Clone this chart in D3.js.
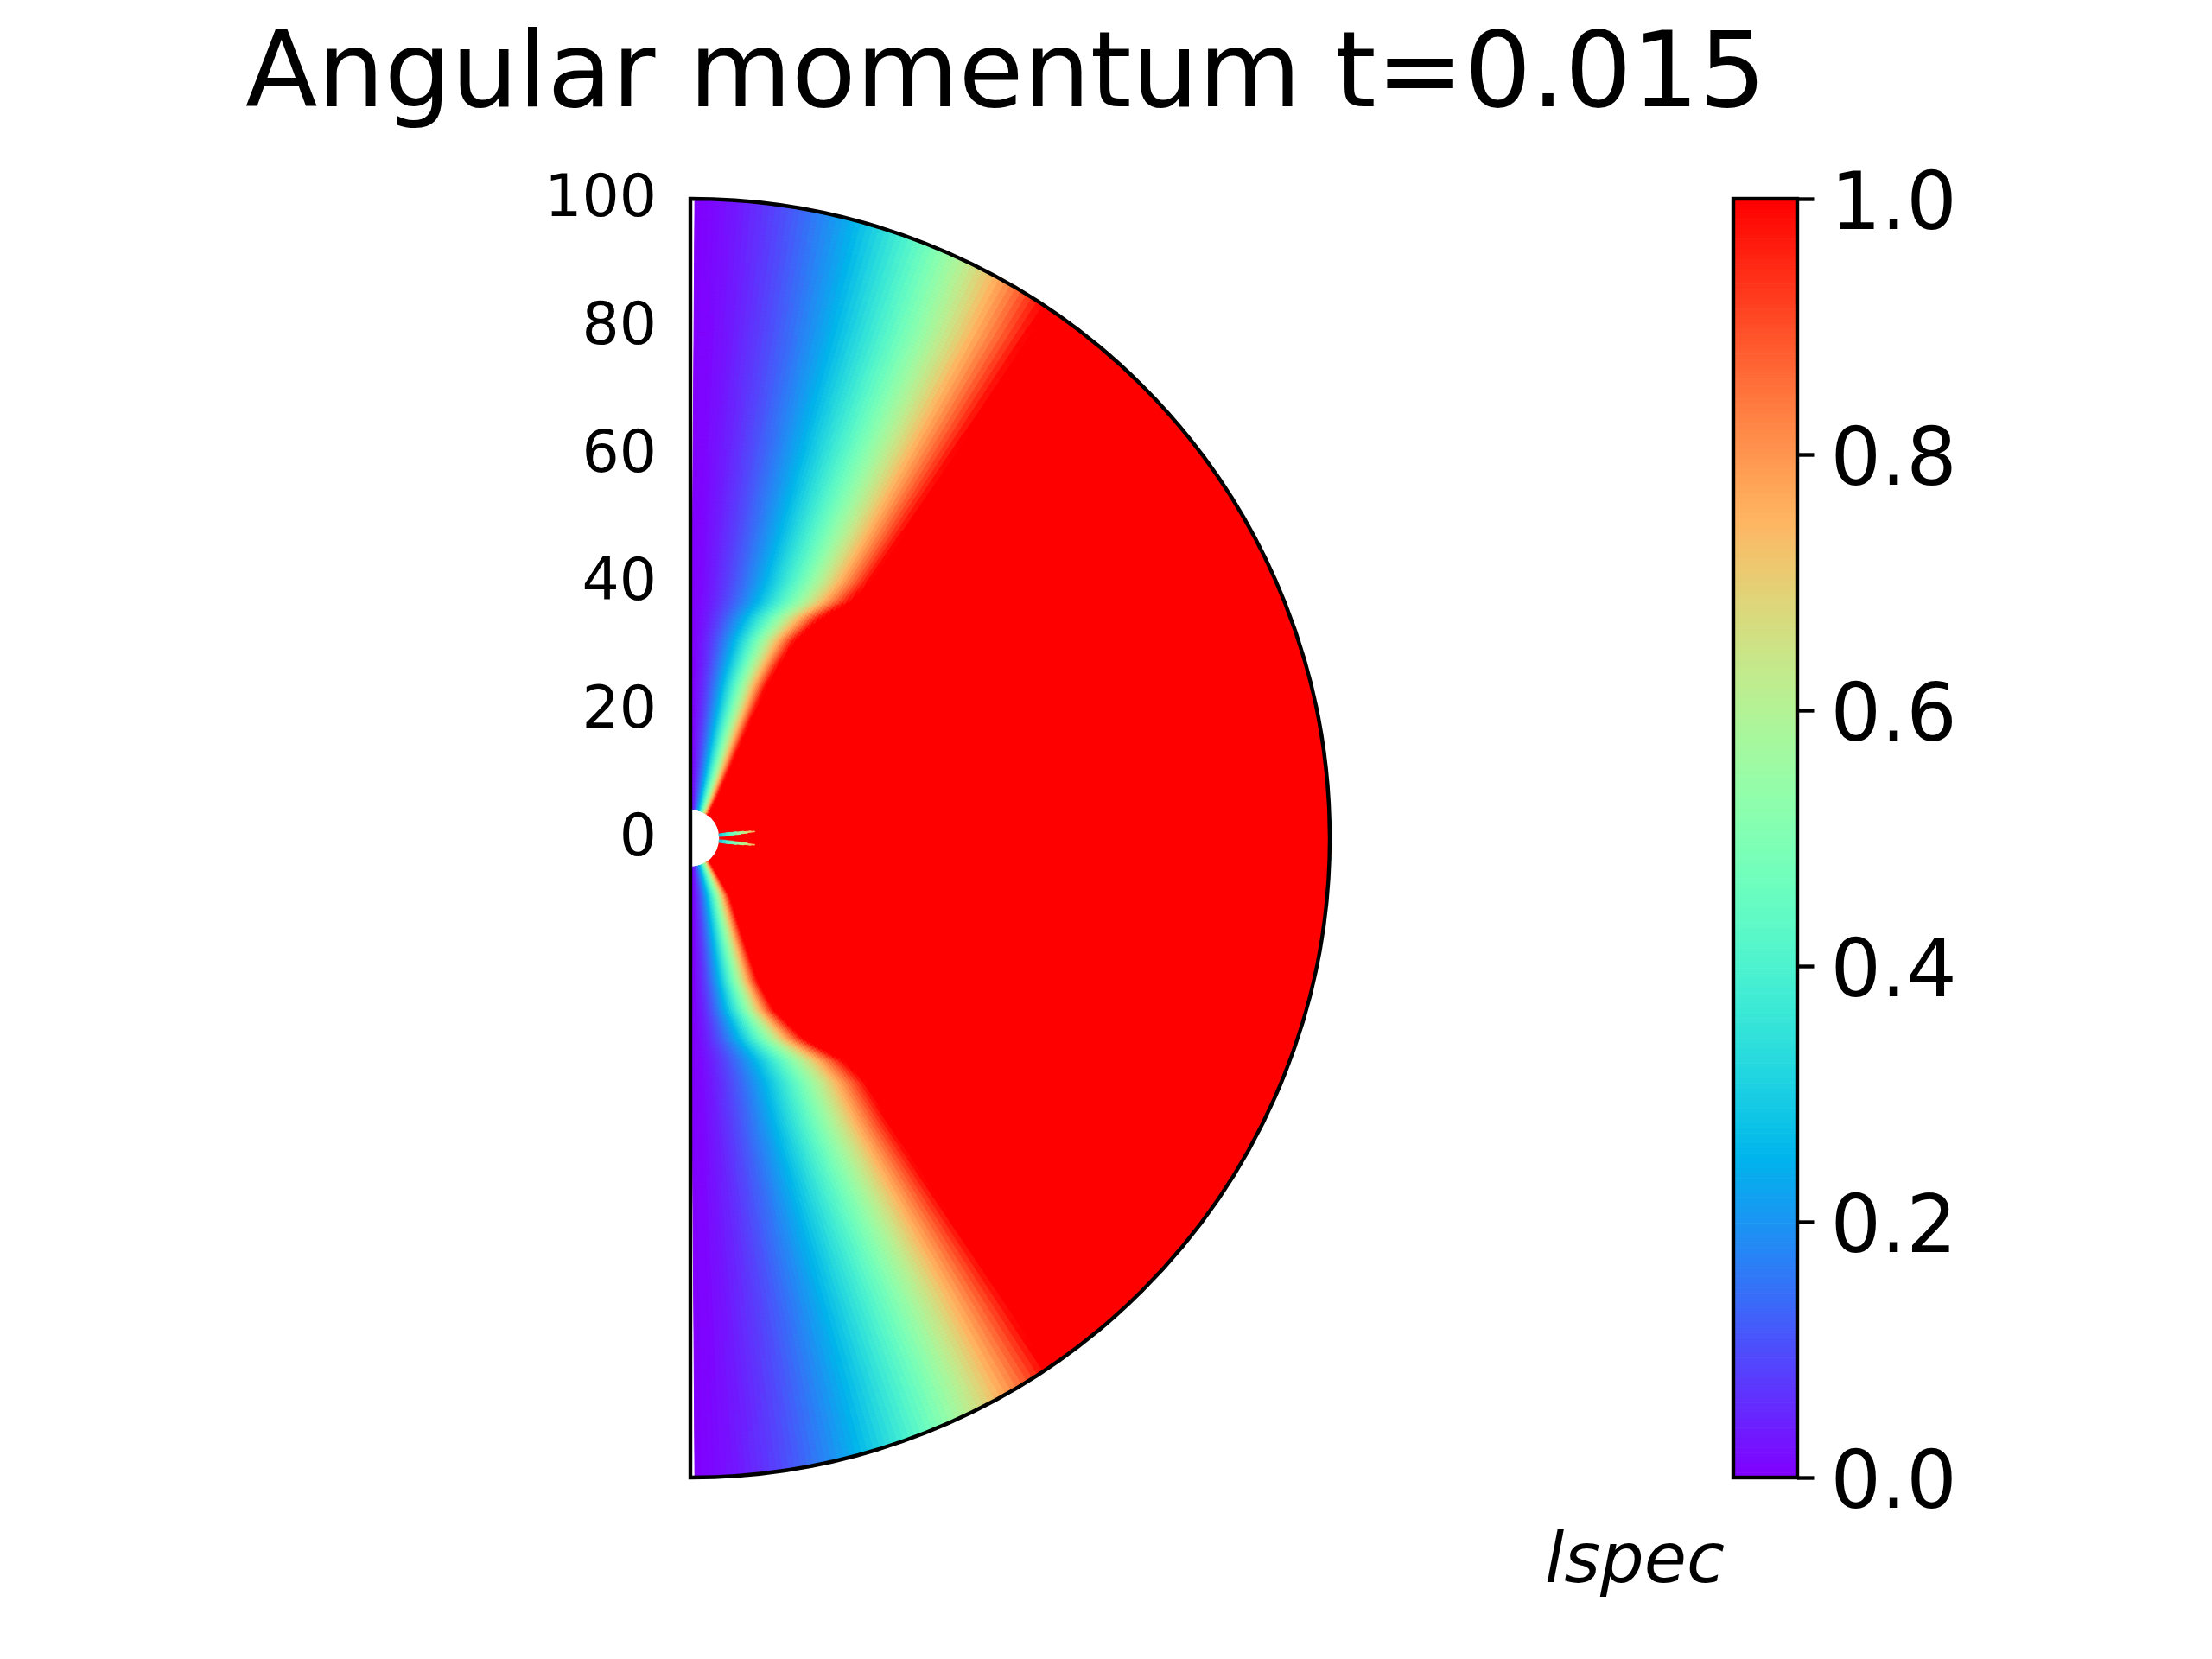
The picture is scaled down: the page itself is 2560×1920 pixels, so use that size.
<!DOCTYPE html>
<html><head><meta charset="utf-8">
<script src="https://cdn.jsdelivr.net/npm/d3@7"></script>
<style>body{margin:0;background:#fff} svg{display:block}</style>
</head><body>
<script>
// ---------------- data ----------------
const titleText = "Angular momentum t=0.015";
const yTicks = [0, 20, 40, 60, 80, 100];
const cbTicks = [0.0, 0.2, 0.4, 0.6, 0.8, 1.0];
const cbLabel = "lspec";
// height z and cylindrical radius x where lspec reaches 1 (edge of red region)
const edgeZ = [-100, -86, -73, -59, -54, -45, -38.3, -35, -31.5, -27, -22.5, -15.8, -9, -4.5, -3, 0, 3, 6, 10.5, 17, 24, 27, 31, 34.5, 37, 40, 46, 55, 61, 79, 92, 100];
const edgeX = [63, 57, 49.4, 40.3, 37, 31.2, 27.4, 24, 17.7, 13, 10.5, 8.2, 6, 3.4, 2.5, 1.5, 2.5, 4, 6, 8.8, 12, 13.8, 16.5, 20.5, 25, 28, 32.2, 38, 41.8, 53, 59, 62];
const profileExponent = 1.6;           // lspec ~ (x / edge)^p inside the edge
const radialExtent = [4.5, 100];       // inner hole and outer radius
const thetaExtent = [0.4, 179.6];      // polar angle range of the mesh (deg)
// two thin low-lspec spikes next to the inner boundary
const spikeTheta = [84, 96];
const spikeR = [4.5, 10.5];
const spikeValue = [0.28, 0.8];
const spikeHalfWidth = 2.8;

// ---------------- layout ----------------
const W = 2560, H = 1920;
const cx = 799, cy = 970, Rpx = 740;
const font = "'DejaVu Sans', sans-serif";

const svg = d3.select("body").append("svg")
  .attr("width", W).attr("height", H)
  .attr("viewBox", `0 0 ${W} ${H}`);
svg.append("rect").attr("width", W).attr("height", H).attr("fill", "#fff");

// matplotlib 'rainbow' colormap
function rainbow(t) {
  const r = Math.min(1, Math.abs(2 * t - 0.5));
  const g = Math.sin(Math.PI * t);
  const b = Math.cos(Math.PI * t / 2);
  return d3.rgb(r * 255, g * 255, b * 255).formatHex();
}
const color = d3.scaleSequential(rainbow).domain([0, 1]);
const lutIndex = v => Math.min(255, Math.max(0, Math.floor(v * 256)));

const rScale = d3.scaleLinear().domain([0, 100]).range([0, Rpx]);
const yScale = d3.scaleLinear().domain([-100, 100]).range([cy + Rpx, cy - Rpx]);
const edge = d3.scaleLinear().domain(edgeZ).range(edgeX).clamp(true);

function field(r, thDeg) {
  const th = thDeg * Math.PI / 180;
  const x = r * Math.sin(th), z = r * Math.cos(th);
  if (r < spikeR[1]) {
    const f = (r - spikeR[0]) / (spikeR[1] - spikeR[0]);
    const hw = spikeHalfWidth * (1 - f);
    for (const s of spikeTheta) {
      if (Math.abs(thDeg - s) < hw) return spikeValue[0] + (spikeValue[1] - spikeValue[0]) * f;
    }
  }
  const xb = edge(z);
  return Math.min(1, Math.pow(Math.max(0, x) / xb, profileExponent));
}

// ---------------- polar mesh ----------------
const nr = 170, nt = 320;
const rEdges = d3.range(nr + 1).map(i => radialExtent[0] + (radialExtent[1] - radialExtent[0]) * i / nr);
const tEdges = d3.range(nt + 1).map(j => thetaExtent[0] + (thetaExtent[1] - thetaExtent[0]) * j / nt);
const cells = [];
for (let i = 0; i < nr; i++) {
  const rm = (rEdges[i] + rEdges[i + 1]) / 2;
  let run = null;
  for (let j = 0; j < nt; j++) {
    const tm = (tEdges[j] + tEdges[j + 1]) / 2;
    const k = lutIndex(field(rm, tm));
    if (run && run.k === k) { run.t1 = tEdges[j + 1]; }
    else {
      if (run) cells.push(run);
      run = { r0: rEdges[i], r1: rEdges[i + 1], t0: tEdges[j], t1: tEdges[j + 1], k };
    }
  }
  cells.push(run);
}
const arc = d3.arc()
  .innerRadius(d => rScale(d.r0)).outerRadius(d => rScale(d.r1))
  .startAngle(d => d.t0 * Math.PI / 180).endAngle(d => d.t1 * Math.PI / 180);

const gField = svg.append("g").attr("transform", `translate(${cx},${cy})`);
// saturated (lspec = 1) base layer, then every non-saturated cell on top
const base = { r0: radialExtent[0], r1: radialExtent[1], t0: thetaExtent[0], t1: thetaExtent[1], k: 255 };
gField.append("path").attr("d", arc(base)).attr("fill", color(1));
gField.selectAll("path.cell").data(cells.filter(d => d.k < 255)).join("path")
  .attr("class", "cell")
  .attr("d", arc)
  .attr("fill", d => color(d.k / 255))
  .attr("stroke", d => color(d.k / 255))
  .attr("stroke-width", 1);

// outline of the half disk
const outline = d3.arc().innerRadius(0).outerRadius(rScale(100)).startAngle(0).endAngle(Math.PI);
gField.append("path").attr("d", outline())
  .attr("fill", "none").attr("stroke", "#000").attr("stroke-width", 4.4)
  .attr("stroke-linejoin", "miter");

// y tick labels
const gy = svg.append("g").attr("transform", `translate(${cx},0)`)
  .call(d3.axisLeft(yScale).tickValues(yTicks).tickSize(0).tickPadding(39).tickFormat(d3.format("d")));
gy.select(".domain").remove();
gy.selectAll(".tick line").remove();
gy.selectAll("text").attr("font-family", font).attr("font-size", 68).attr("fill", "#000").attr("dy", "0.28em");

// ---------------- colorbar ----------------
const cbX = 2006, cbW = 74;
const cScale = d3.scaleLinear().domain([0, 1]).range([cy + Rpx, cy - Rpx]);
const nStep = 256;
svg.append("g").selectAll("rect").data(d3.range(nStep)).join("rect")
  .attr("x", cbX).attr("width", cbW)
  .attr("y", i => cScale((i + 1) / nStep))
  .attr("height", i => cScale(i / nStep) - cScale((i + 1) / nStep) + 0.6)
  .attr("fill", i => color(i / (nStep - 1)));
svg.append("rect").attr("x", cbX).attr("y", cScale(1)).attr("width", cbW)
  .attr("height", cScale(0) - cScale(1))
  .attr("fill", "none").attr("stroke", "#000").attr("stroke-width", 4.4);
const gc = svg.append("g").attr("transform", `translate(${cbX + cbW},0)`)
  .call(d3.axisRight(cScale).tickValues(cbTicks).tickSize(19.5).tickPadding(19).tickFormat(d3.format(".1f")));
gc.select(".domain").remove();
gc.selectAll(".tick line").attr("stroke", "#000").attr("stroke-width", 4.4);
gc.selectAll("text").attr("font-family", font).attr("font-size", 92).attr("fill", "#000").attr("dy", "0.37em");

svg.append("text").attr("x", 1788).attr("y", 1831)
  .attr("font-family", font).attr("font-style", "italic").attr("font-size", 80)
  .text(cbLabel);

// title
svg.append("text").attr("x", 1164).attr("y", 123).attr("text-anchor", "middle")
  .attr("font-family", font).attr("font-size", 122).text(titleText);
</script>
</body></html>
